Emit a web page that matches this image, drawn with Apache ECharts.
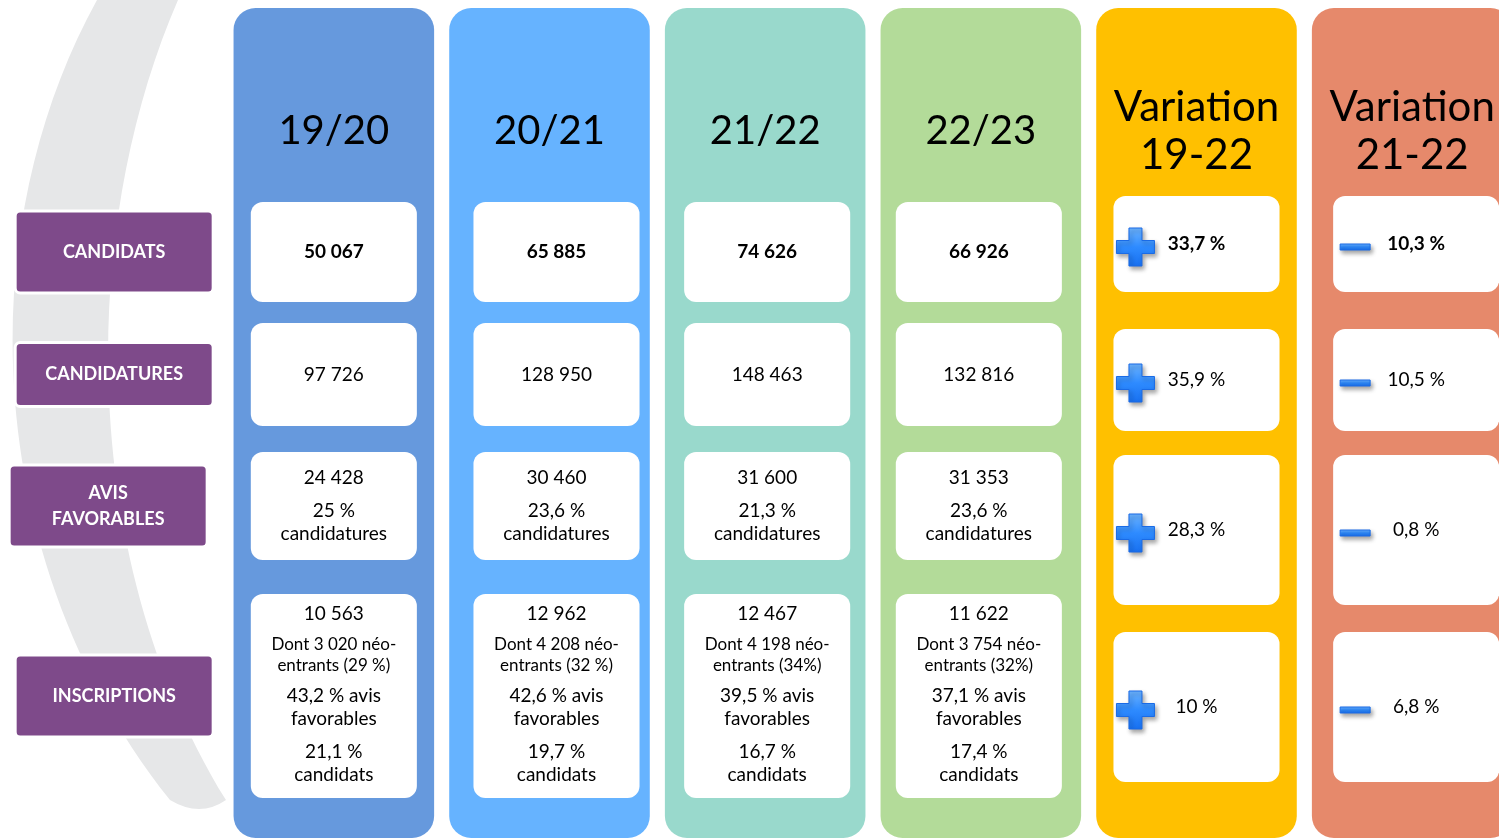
<!DOCTYPE html>
<html lang="fr">
<head>
<meta charset="utf-8">
<title>Candidats, candidatures, avis favorables et inscriptions</title>
<script src="https://cdn.jsdelivr.net/npm/echarts@6/dist/echarts.min.js"></script>
<style>
    html, body { margin: 0; padding: 0; background: #ffffff; }
    #chart { width: 1499px; height: 840px; }
</style>
</head>
<body>
<div id="chart"></div>
<script>
// en-tetes de colonnes et rubriques
var columns = ['19/20', '20/21', '21/22', '22/23', 'Variation\n19-22', 'Variation\n21-22'];
var rubriques = ['CANDIDATS', 'CANDIDATURES', 'AVIS\nFAVORABLES', 'INSCRIPTIONS'];

// valeurs par annee (19/20, 20/21, 21/22, 22/23)
var candidats = [50067, 65885, 74626, 66926];
var candidatures = [97726, 128950, 148463, 132816];
var avisFavorables = [24428, 30460, 31600, 31353];
var avisPartCandidatures = [25, 23.6, 21.3, 23.6];
var inscriptions = [10563, 12962, 12467, 11622];
var neoEntrants = [3020, 4208, 4198, 3754];
var neoEntrantsPart = ['29 %', '32 %', '34%', '32%'];
var inscriptionsPartAvis = [43.2, 42.6, 39.5, 37.1];
var inscriptionsPartCandidats = [21.1, 19.7, 16.7, 17.4];

// variations par rubrique (candidats, candidatures, avis, inscriptions)
var variation1922 = [33.7, 35.9, 28.3, 10];
var variation2122 = [-10.3, -10.5, -0.8, -6.8];

// mise en page
var FONT = 'Lato, "Noto Sans", sans-serif';
var COLUMN_COLORS = ['#6699DD', '#66B3FF', '#99D9CC', '#B3DB99', '#FFC000', '#E6896B'];
var LABEL_COLOR = '#7E4A8A';
var COLUMN_TOP = 8, COLUMN_BOTTOM = 838;
var DATA_ROWS = [[202, 302], [323, 426], [452, 560], [594, 798]];
var VAR_ROWS = [[196, 292], [329, 431], [455, 605], [632, 782]];
var LABEL_HEIGHTS = [82, 64, 82, 82];
var CELL_SHIFT_X = [0, 7, 2, -2, 0, 4];
var ARC_PATH = 'M97,0 C-30,230 -20,560 170,800 Q200,818 226,800 C78,560 78,230 178,0 Z';

function fmtInt(n) {
    return String(n).replace(/\B(?=(\d{3})+(?!\d))/g, ' ');
}

function fmtPct(p) {
    return String(Math.abs(p)).replace('.', ',') + ' %';
}

function cellLines(col, row) {
    if (row === 0) {
        return [{t: fmtInt(candidats[col]), dy: 0, bold: true}];
    }
    if (row === 1) {
        return [{t: fmtInt(candidatures[col]), dy: 0}];
    }
    if (row === 2) {
        return [
            {t: fmtInt(avisFavorables[col]), dy: -28},
            {t: fmtPct(avisPartCandidatures[col]), dy: 5},
            {t: 'candidatures', dy: 28}
        ];
    }
    return [
        {t: fmtInt(inscriptions[col]), dy: -82},
        {t: 'Dont ' + fmtInt(neoEntrants[col]) + ' néo-', dy: -51, size: 17},
        {t: 'entrants (' + neoEntrantsPart[col] + ')', dy: -30, size: 17},
        {t: fmtPct(inscriptionsPartAvis[col]) + ' avis', dy: 0},
        {t: 'favorables', dy: 23},
        {t: fmtPct(inscriptionsPartCandidats[col]), dy: 56},
        {t: 'candidats', dy: 79}
    ];
}

function textEl(text, x, y, size, bold, color) {
    return {
        type: 'text',
        style: {
            text: text, x: x, y: y,
            align: 'center', verticalAlign: 'middle',
            fontSize: size, fontWeight: bold ? 'bold' : 'normal',
            fontFamily: FONT, fill: color || '#000000'
        }
    };
}

var iconFill = {
    type: 'linear', x: 0, y: 0, x2: 0, y2: 1,
    colorStops: [
        {offset: 0, color: '#6DB4FF'},
        {offset: 0.5, color: '#2E8BFF'},
        {offset: 1, color: '#1870F0'}
    ]
};

function iconEl(x, y, plus) {
    var style = {
        fill: iconFill, stroke: '#1A6BE6', lineWidth: 1,
        shadowBlur: 4, shadowColor: 'rgba(0,0,0,0.35)', shadowOffsetX: 2, shadowOffsetY: 3
    };
    if (!plus) {
        return {type: 'rect', shape: {x: x - 15, y: y - 3, width: 30, height: 6}, style: style};
    }
    var a = 6.5, h = 19;
    return {
        type: 'polygon',
        shape: {points: [
            [x - a, y - h], [x + a, y - h], [x + a, y - a], [x + h, y - a], [x + h, y + a], [x + a, y + a],
            [x + a, y + h], [x - a, y + h], [x - a, y + a], [x - h, y + a], [x - h, y - a], [x - a, y - a]
        ]},
        style: style
    };
}

// arc gris decoratif derriere les rubriques
function renderArc(params, api) {
    return {
        type: 'path',
        shape: {pathData: ARC_PATH},
        style: {fill: '#E6E7E8'}
    };
}

// fond colore de chaque colonne avec son titre
function renderColumn(params, api) {
    var col = api.value(0);
    var top = api.coord([col, COLUMN_TOP]);
    var bottom = api.coord([col, COLUMN_BOTTOM]);
    var w = api.size([1, 0])[0] * 0.93;
    var titleY = api.coord([col, 131])[1];
    var t = textEl(columns[col], top[0], titleY, col < 4 ? 40 : 42, false);
    t.style.lineHeight = 48;
    return {
        type: 'group',
        children: [
            {
                type: 'rect',
                shape: {x: top[0] - w / 2, y: top[1], width: w, height: bottom[1] - top[1], r: 22},
                style: {fill: COLUMN_COLORS[col]}
            },
            t
        ]
    };
}

// etiquettes violettes des rubriques, a gauche de la premiere colonne
function renderLabel(params, api) {
    var row = api.value(1);
    var band = DATA_ROWS[row];
    var p0 = api.coord([0, band[0]]);
    var p1 = api.coord([0, band[1]]);
    var bw = api.size([1, 0])[0];
    var cx = p0[0] - bw - 4 - (row === 2 ? 6 : 0);
    var cy = (p0[1] + p1[1]) / 2;
    var w = 198, h = LABEL_HEIGHTS[row];
    var t = textEl(rubriques[row], cx, cy, 18, true, '#ffffff');
    t.style.lineHeight = 26;
    return {
        type: 'group',
        children: [
            {
                type: 'rect',
                shape: {x: cx - w / 2, y: cy - h / 2, width: w, height: h, r: 5},
                style: {fill: LABEL_COLOR, stroke: '#ffffff', lineWidth: 3}
            },
            t
        ]
    };
}

// cases blanches
function renderCell(params, api) {
    var col = api.value(0);
    var row = api.value(1);
    var band = (col < 4 ? DATA_ROWS : VAR_ROWS)[row];
    var p0 = api.coord([col, band[0]]);
    var p1 = api.coord([col, band[1]]);
    var w = api.size([1, 0])[0] * 0.77;
    var cx = p0[0] + CELL_SHIFT_X[col];
    var cy = (p0[1] + p1[1]) / 2;
    var children = [{
        type: 'rect',
        shape: {x: cx - w / 2, y: p0[1], width: w, height: p1[1] - p0[1], r: 12},
        style: {fill: '#ffffff'}
    }];
    if (col < 4) {
        cellLines(col, row).forEach(function (l) {
            children.push(textEl(l.t, cx, cy + l.dy, l.size || 19, l.bold));
        });
    } else {
        var v = (col === 4 ? variation1922 : variation2122)[row];
        children.push(iconEl(cx - w / 2 + 22, cy + 3, v >= 0));
        children.push(textEl(fmtPct(v), cx, cy, 19, row === 0));
    }
    return {type: 'group', children: children};
}

var columnData = columns.map(function (c, i) { return [i, 0]; });
var labelData = rubriques.map(function (r, i) { return [0, i]; });
var cellData = [];
columns.forEach(function (c, col) {
    rubriques.forEach(function (r, row) {
        cellData.push([col, row]);
    });
});

var chart = echarts.init(document.getElementById('chart'));
chart.setOption({
    animation: false,
    backgroundColor: '#ffffff',
    grid: {left: 226, top: 0, width: 1294, height: 840, outerBoundsMode: 'none'},
    xAxis: {type: 'category', data: columns, show: false},
    yAxis: {type: 'value', min: 0, max: 840, inverse: true, show: false},
    series: [
        {type: 'custom', name: 'arc', renderItem: renderArc, data: [[0, 0]], z: 0, silent: true},
        {type: 'custom', name: 'colonnes', renderItem: renderColumn, data: columnData, z: 1},
        {type: 'custom', name: 'rubriques', renderItem: renderLabel, data: labelData, z: 3},
        {type: 'custom', name: 'cases', renderItem: renderCell, data: cellData, z: 3}
    ]
});
</script>
</body>
</html>
